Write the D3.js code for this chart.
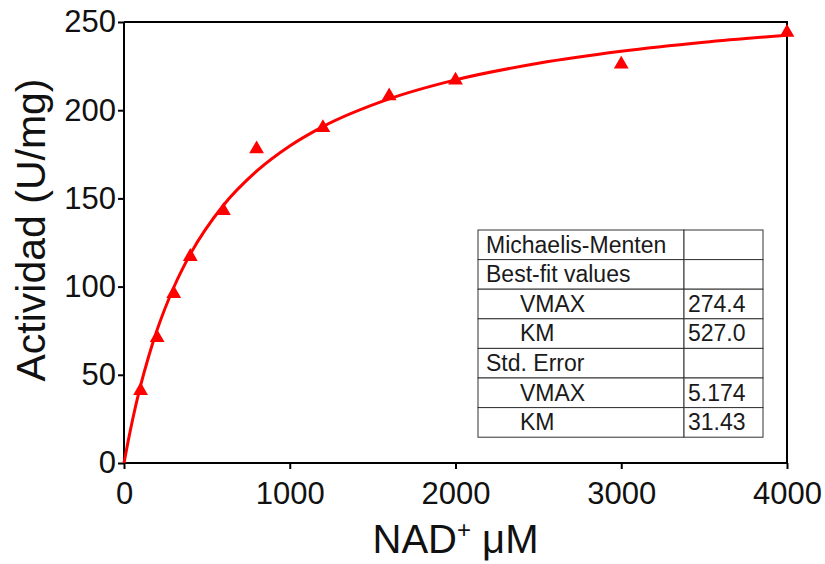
<!DOCTYPE html>
<html>
<head>
<meta charset="utf-8">
<script src="https://cdn.jsdelivr.net/npm/d3@7"></script>
<style>
  body { margin: 0; background: #fff; }
  svg { font-family: "Liberation Sans", Arial, sans-serif; }
</style>
</head>
<body>
<div id="chart"></div>
<script>
// measured points
const substrate = [100, 200, 300, 400, 600, 800, 1200, 1600, 2000, 3000, 4000];
const activity = [41, 71, 96, 117, 143, 178, 190, 208, 217, 226, 244];

// fitted curve
const fitX = [0, 25, 50, 100, 150, 200, 300, 400, 600, 800, 1000, 1200, 1600, 2000, 2500, 3000, 3500, 4000];
const fitY = [0, 12.4, 23.8, 43.8, 60.8, 75.5, 99.5, 118.4, 146.1, 165.4, 179.7, 190.7, 206.4, 217.2, 226.6, 233.4, 238.5, 242.5];

const xTicks = [0, 1000, 2000, 3000, 4000];
const yTicks = [0, 50, 100, 150, 200, 250];

// results table
const tableLabels = ["Michaelis-Menten", "Best-fit values", "VMAX", "KM", "Std. Error", "VMAX", "KM"];
const tableValues = ["", "", "274.4", "527.0", "", "5.174", "31.43"];
const tableIndent = [0, 0, 1, 1, 0, 1, 1];

const margin = {top: 22, right: 38, bottom: 101, left: 124};
const width = 825 - margin.left - margin.right;
const height = 564 - margin.top - margin.bottom;

const svg = d3.select("#chart").append("svg")
    .attr("width", 825)
    .attr("height", 564);

const g = svg.append("g")
    .attr("transform", "translate(" + margin.left + "," + margin.top + ")");

const x = d3.scaleLinear().domain([0, 4000]).range([0, width]);
const y = d3.scaleLinear().domain([0, 250]).range([height, 0]);

// frame (top and right)
g.append("path")
    .attr("d", "M0,0H" + width + "V" + height)
    .style("fill", "none")
    .style("stroke", "#000")
    .style("stroke-width", "2px");

const xAxis = g.append("g")
    .attr("transform", "translate(0," + height + ")")
    .call(d3.axisBottom(x).tickValues(xTicks).tickSize(6).tickPadding(13).tickFormat(d3.format("d")));

const yAxis = g.append("g")
    .call(d3.axisLeft(y).tickValues(yTicks).tickSize(6).tickPadding(2));

[xAxis, yAxis].forEach(ax => {
    ax.select(".domain").attr("stroke-width", 2).attr("d", ax === xAxis ? "M0,0H" + width : "M0,0V" + height);
    ax.selectAll(".tick line").attr("stroke-width", 2);
    ax.selectAll(".tick text")
        .style("font-size", "31px")
        .style("font-family", "'Liberation Sans', Arial, sans-serif")
        .attr("fill", "#111");
});

// fit line
const line = d3.line()
    .x(d => x(d[0]))
    .y(d => y(d[1]))
    .curve(d3.curveMonotoneX);

g.append("path")
    .datum(fitX.map((v, i) => [v, fitY[i]]))
    .attr("d", line)
    .style("fill", "none")
    .style("stroke", "#ff0000")
    .style("stroke-width", "3px");

// markers
g.selectAll(".pt")
    .data(substrate.map((v, i) => [v, activity[i]]))
    .enter().append("path")
    .attr("class", "pt")
    .attr("transform", d => "translate(" + x(d[0]) + "," + y(d[1]) + ")")
    .attr("d", d3.symbol().type(d3.symbolTriangle).size(95))
    .style("fill", "#ff0000");

// axis titles
svg.append("text")
    .attr("transform", "translate(45,230) rotate(-90)")
    .attr("text-anchor", "middle")
    .style("font-size", "41px")
    .attr("fill", "#111")
    .text("Actividad (U/mg)");

const xt = svg.append("text")
    .attr("x", margin.left + width / 2)
    .attr("y", 553)
    .attr("text-anchor", "middle")
    .style("font-size", "40px")
    .attr("fill", "#111");
xt.append("tspan").text("NAD");
xt.append("tspan").attr("dy", -15).style("font-size", "24px").text("+");
xt.append("tspan").attr("dy", 15).text(" \u03bcM");

// table
const tLeft = 478, tRight = 763, tDiv = 684, tTop = 230, rowH = 29.6;
const table = svg.append("g");
const rows = table.selectAll(".row")
    .data(tableLabels.map((l, i) => ({label: l, value: tableValues[i], indent: tableIndent[i]})))
    .enter().append("g")
    .attr("transform", (d, i) => "translate(0," + (tTop + i * rowH) + ")");

rows.append("rect")
    .attr("x", tLeft).attr("y", 0)
    .attr("width", tDiv - tLeft).attr("height", rowH)
    .style("fill", "#fff").style("stroke", "#333").style("stroke-width", 1);
rows.append("rect")
    .attr("x", tDiv).attr("y", 0)
    .attr("width", tRight - tDiv).attr("height", rowH)
    .style("fill", "#fff").style("stroke", "#333").style("stroke-width", 1);
rows.append("text")
    .attr("x", d => tLeft + 8 + d.indent * 34)
    .attr("y", rowH - 7)
    .style("font-size", "23px")
    .attr("fill", "#1a1a1a")
    .text(d => d.label);
rows.append("text")
    .attr("x", tDiv + 4)
    .attr("y", rowH - 7)
    .style("font-size", "23px")
    .attr("fill", "#1a1a1a")
    .text(d => d.value);
</script>
</body>
</html>
